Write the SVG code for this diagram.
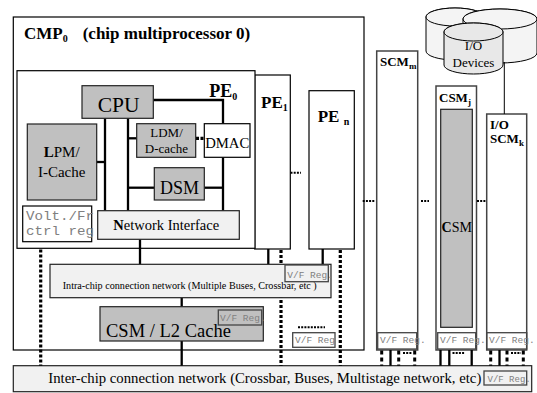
<svg xmlns="http://www.w3.org/2000/svg" width="537" height="393" viewBox="0 0 537 393">
<defs>
<style>
.box{fill:#fff;stroke:#000;stroke-width:1.2}
.gray{fill:#c0c0c0;stroke:#222;stroke-width:1.2}
.light{fill:#f1f1f1;stroke:#222;stroke-width:1.2}
.col{fill:#fff;stroke:#444;stroke-width:1.5}
.t{font-family:"Liberation Serif","Times New Roman",serif;fill:#000}
.b{font-weight:bold}
.m{font-family:"Liberation Mono","Courier New",monospace;fill:#808080}
.vf{fill:none;stroke:#444;stroke-width:1.3}
.w{fill:none;stroke:#000;stroke-width:2.3}
.thin{fill:none;stroke:#000;stroke-width:1}
.dot{fill:none;stroke:#000;stroke-width:3.2;stroke-dasharray:3 2}
.dot2{fill:none;stroke:#000;stroke-width:3;stroke-dasharray:4 3}
.ell{fill:none;stroke:#000;stroke-width:2;stroke-dasharray:2 1.2}
.cyl{stroke:#000;stroke-width:1}
</style>
</defs>
<rect width="537" height="393" fill="#fff"/>

<g id="cmp0">
<rect class="box" x="13.3" y="17" width="350.7" height="333"/>
<text class="t b" x="24" y="39" font-size="17">CMP<tspan font-size="10" dy="3">0</tspan><tspan dy="-3" x="82.7">(chip multiprocessor 0)</tspan></text>
</g>

<g id="pe1">
<rect class="box" x="254.7" y="75" width="35.6" height="174"/>
<text class="t b" x="261" y="108" font-size="17">PE<tspan font-size="10" dy="3">1</tspan></text>
</g>
<g id="pen">
<rect class="box" x="309" y="90.7" width="45.3" height="158.3"/>
<text class="t b" x="317.7" y="122" font-size="17">PE <tspan font-size="10" dy="3">n</tspan></text>
</g>
<g id="pe0">
<rect class="box" x="17" y="70.7" width="238" height="177.6"/>
<text class="t b" x="209.3" y="96.7" font-size="18">PE<tspan font-size="10" dy="3">0</tspan></text>
</g>

<g id="scm-m">
<rect class="col" x="376.7" y="51" width="41" height="299"/>
<text class="t b" x="380" y="65.7" font-size="13">SCM<tspan font-size="9" dy="3">m</tspan></text>
</g>
<g id="csm-j">
<rect class="col" x="436" y="86" width="40.5" height="264"/>
<text class="t b" x="439" y="102" font-size="13">CSM<tspan font-size="9" dy="3">j</tspan></text>
<rect class="gray" x="440.7" y="109.3" width="31.6" height="218" stroke-width="1"/>
<text class="t" x="441.5" y="231.7" font-size="14"><tspan font-weight="bold">C</tspan>SM</text>
</g>
<g id="io-scm-k">
<rect class="col" x="486.7" y="114" width="40" height="236"/>
<text class="t b" x="490" y="129" font-size="13">I/O</text>
<text class="t b" x="490" y="143" font-size="13">SCM<tspan font-size="9" dy="3">k</tspan></text>
</g>

<g id="io-devices">
<path class="cyl" fill="#f4f4f4" d="M426,17 V51 A29,9 0 0 0 484,51 V17 A29,9 0 0 0 426,17 Z"/>
<ellipse class="cyl" fill="#f4f4f4" cx="455" cy="17" rx="29" ry="9"/>
<path class="cyl" fill="#f4f4f4" d="M463,19 V53 A37,10 0 0 0 537,53 V19 A37,10 0 0 0 463,19 Z"/>
<ellipse class="cyl" fill="#f4f4f4" cx="500" cy="19" rx="37" ry="10"/>
<path class="cyl" fill="#e8e8e8" d="M444,32 V65 A29.5,9 0 0 0 503,65 V32 A29.5,9 0 0 0 444,32 Z"/>
<ellipse class="cyl" fill="#e8e8e8" cx="473.5" cy="32" rx="29.5" ry="9"/>
<text class="t" x="473.5" y="50" font-size="13" text-anchor="middle">I/O</text>
<text class="t" x="473.5" y="66.5" font-size="13" text-anchor="middle">Devices</text>
</g>

<g id="inter-chip">
<rect class="light" x="13.3" y="365.7" width="518.4" height="26"/>
<text class="t" x="48.3" y="383.3" font-size="14" textLength="433" lengthAdjust="spacingAndGlyphs">Inter-chip connection network  (Crossbar, Buses, Multistage network, etc)</text>
</g>

<g id="connectors">
<polyline class="w" points="153.3,100 223,100 223,123.5"/>
<line class="w" x1="105" y1="118.3" x2="105" y2="210.7"/>
<line class="w" x1="128" y1="118.3" x2="128" y2="210.7"/>
<line class="w" x1="96.7" y1="162" x2="105" y2="162"/>
<line class="w" x1="128" y1="138.3" x2="136.7" y2="138.3"/>
<line class="w" x1="128" y1="187.7" x2="154.3" y2="187.7"/>
<line class="w" x1="204.3" y1="187.7" x2="223" y2="187.7"/>
<line class="w" x1="223" y1="157.3" x2="223" y2="210.7"/>
<line fill="none" stroke="#000" stroke-width="3.2" stroke-dasharray="3 1.5" x1="196" y1="138.3" x2="204.3" y2="138.3"/>
<line class="w" x1="140" y1="239.3" x2="140" y2="264.3"/>
<line class="w" x1="268.3" y1="249" x2="268.3" y2="264.3"/>
<line class="w" x1="322.7" y1="249" x2="322.7" y2="264.3"/>
<line class="w" x1="181.7" y1="297.7" x2="181.7" y2="306.7"/>
<line class="w" x1="181.7" y1="341" x2="181.7" y2="365.7"/>
<line class="dot" x1="40.7" y1="249.5" x2="40.7" y2="365.7"/>
<line class="dot" x1="281" y1="250" x2="281" y2="365.7"/>
<line class="dot" x1="340.3" y1="250" x2="340.3" y2="365.7"/>
<line class="ell" x1="290.5" y1="172.7" x2="301" y2="172.7"/>
<line class="ell" x1="362.7" y1="201" x2="375" y2="201"/>
<line class="ell" x1="421" y1="201" x2="429" y2="201"/>
<line class="ell" x1="477" y1="201" x2="485.5" y2="201"/>
<line class="ell" x1="298" y1="327.3" x2="325" y2="327.3" stroke-width="1.8"/>
<line class="thin" x1="504.3" y1="62" x2="504.3" y2="114"/>
<line class="dot2" x1="381.7" y1="350.5" x2="381.7" y2="365.7"/>
<line class="w" x1="390.5" y1="350" x2="390.5" y2="365.7"/>
<line class="dot2" x1="398.7" y1="350.5" x2="398.7" y2="365.7"/>
<line class="ell" x1="403" y1="353" x2="412.5" y2="353"/>
<line class="dot2" x1="414.7" y1="350.5" x2="414.7" y2="365.7"/>
<line class="w" x1="440.5" y1="350" x2="440.5" y2="365.7"/>
<line class="w" x1="449.3" y1="350" x2="449.3" y2="365.7"/>
<line class="ell" x1="452.5" y1="353" x2="465" y2="353"/>
<line class="w" x1="471.7" y1="350" x2="471.7" y2="365.7"/>
<line class="dot2" x1="490.7" y1="350.5" x2="490.7" y2="365.7"/>
<line class="w" x1="499.5" y1="350" x2="499.5" y2="365.7"/>
<line class="dot2" x1="507" y1="350.5" x2="507" y2="365.7"/>
<line class="ell" x1="511" y1="353" x2="521" y2="353"/>
<line class="dot2" x1="523.3" y1="350.5" x2="523.3" y2="365.7"/>
</g>

<g id="cpu">
<rect class="gray" x="82" y="85.7" width="71.3" height="32.6"/>
<text class="t" x="118.7" y="111.7" font-size="21.5" text-anchor="middle">CPU</text>
</g>
<g id="lpm">
<rect class="gray" x="27.3" y="124" width="69.4" height="76"/>
<text class="t" x="61.7" y="156.5" font-size="15" text-anchor="middle"><tspan font-weight="bold">L</tspan>PM/</text>
<text class="t" x="61.7" y="176.5" font-size="15" text-anchor="middle">I-Cache</text>
</g>
<g id="ldm">
<rect class="gray" x="136.7" y="123.7" width="59" height="33.6"/>
<text class="t" x="166.5" y="137" font-size="13" text-anchor="middle">LDM/</text>
<text class="t" x="166.5" y="153.3" font-size="13" text-anchor="middle">D-cache</text>
</g>
<g id="dmac">
<rect class="box" x="204.3" y="123.7" width="45.7" height="33.6"/>
<text class="t" x="227.2" y="147.5" font-size="14.7" text-anchor="middle">DMAC</text>
</g>
<g id="dsm">
<rect class="gray" x="154.3" y="167.7" width="50" height="32.3"/>
<text class="t" x="179.5" y="194" font-size="18" text-anchor="middle">DSM</text>
</g>
<g id="volt-reg">
<rect class="box" x="22.7" y="206" width="69" height="35.7"/>
<text class="m" x="26" y="220" font-size="12.5" textLength="68" lengthAdjust="spacingAndGlyphs">Volt./Fr</text>
<text class="m" x="26" y="234.5" font-size="12.5" textLength="68" lengthAdjust="spacingAndGlyphs">ctrl reg</text>
</g>
<g id="network-interface">
<rect class="light" x="97.7" y="210.7" width="141.6" height="28.6"/>
<text class="t" x="113.3" y="230" font-size="14.5"><tspan font-weight="bold">N</tspan>etwork Interface</text>
</g>

<g id="intra-chip">
<rect class="light" x="50" y="264.3" width="281" height="33.4"/>
<text class="t" x="62.7" y="289.3" font-size="10" textLength="254" lengthAdjust="spacingAndGlyphs">Intra-chip connection network  (Multiple Buses, Crossbar, etc )</text>
<rect class="vf" x="285" y="265" width="43.3" height="16.7"/>
<text class="m" x="287.3" y="277.7" font-size="9.5">V/F Reg.</text>
</g>
<g id="csm-l2">
<rect class="gray" x="100" y="306.7" width="163.3" height="34.3"/>
<text class="t" x="106" y="337" font-size="18.5">CSM / L2 Cache</text>
<rect class="vf" x="218.3" y="310" width="43.4" height="15"/>
<text class="m" x="220" y="320.5" font-size="9.5">V/F Reg.</text>
</g>
<g id="vf-cmp">
<rect class="vf" x="292.7" y="332.7" width="42.3" height="14.6"/>
<text class="m" x="295" y="343.3" font-size="9.5">V/F Reg</text>
</g>
<g id="vf-scm-m">
<rect class="vf" x="377.7" y="332.7" width="39" height="16.3"/>
<text class="m" x="380" y="343.3" font-size="9.5">V/F Reg.</text>
</g>
<g id="vf-csm-j">
<rect class="vf" x="437.7" y="332.7" width="38" height="16.3"/>
<text class="m" x="440" y="343.3" font-size="9.5">V/F Reg.</text>
</g>
<g id="vf-scm-k">
<rect class="vf" x="486.7" y="332.7" width="40" height="16.3"/>
<text class="m" x="489" y="343.3" font-size="9.5">V/F Reg.</text>
</g>
<g id="vf-inter">
<rect class="vf" x="484" y="371" width="42.7" height="14"/>
<text class="m" x="487.5" y="381.7" font-size="9">V/F Reg.</text>
</g>
</svg>
